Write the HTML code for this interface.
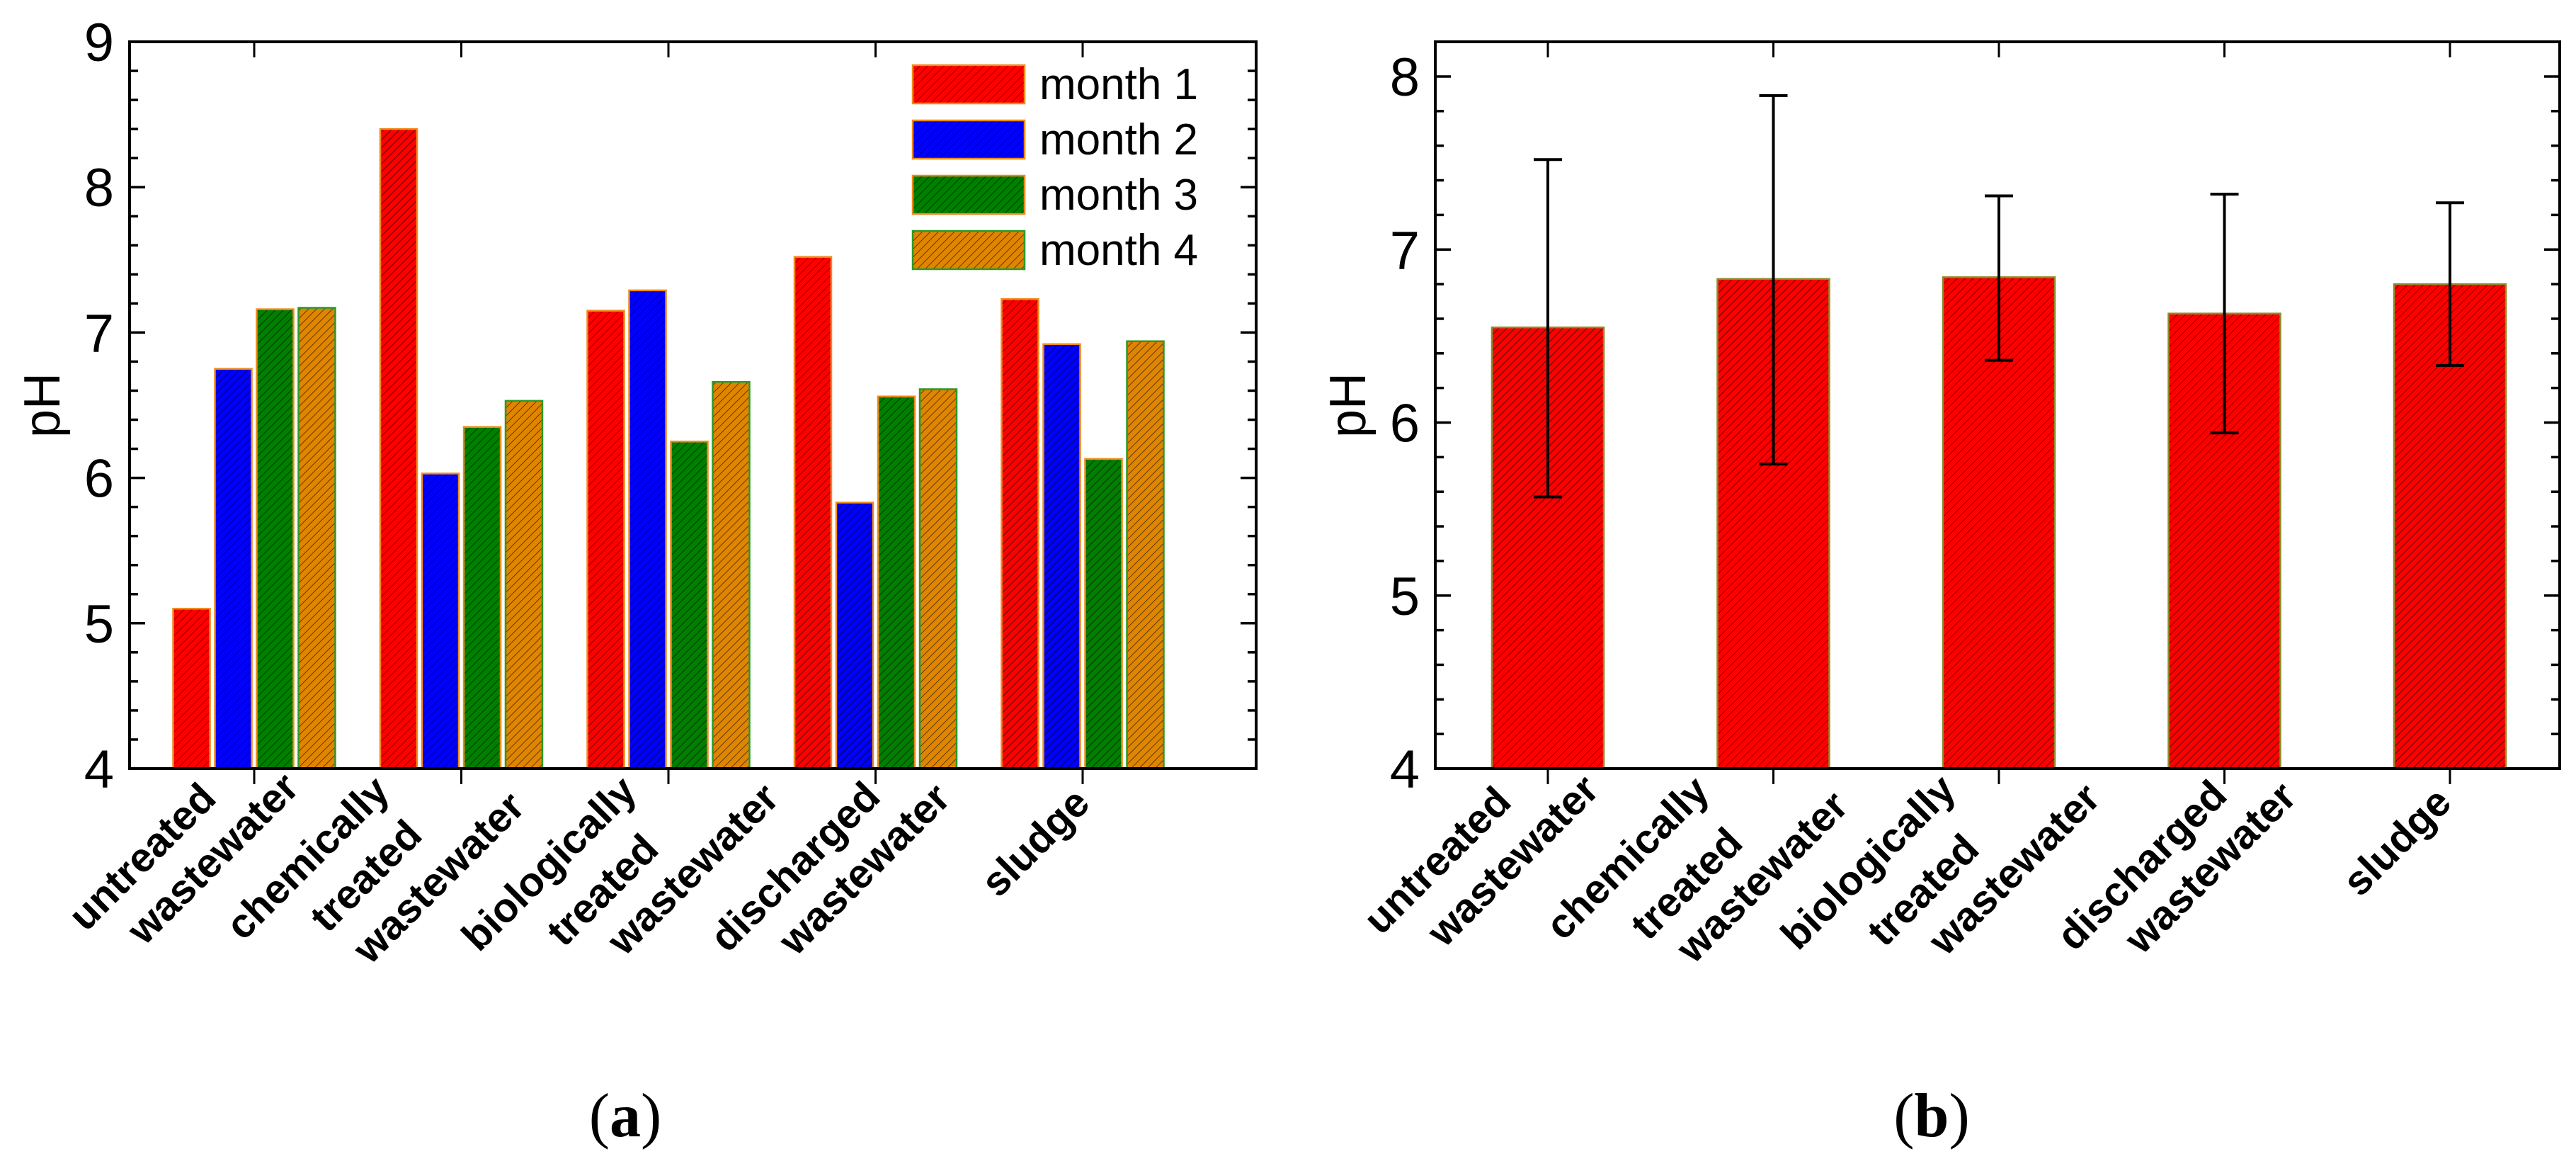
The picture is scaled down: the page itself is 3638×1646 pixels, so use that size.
<!DOCTYPE html>
<html><head><meta charset="utf-8"><style>
html,body{margin:0;padding:0;background:#fff;}
svg{display:block;}
text{font-family:"Liberation Sans",sans-serif;}
.cap{font-family:"Liberation Serif",serif;font-size:88px;}
</style></head><body>
<svg id="fig" width="3638" height="1646" viewBox="0 0 3638 1646" xmlns="http://www.w3.org/2000/svg">
<defs>
<pattern id="hatch" patternUnits="userSpaceOnUse" width="8" height="8" patternTransform="rotate(45)">
<line x1="0" y1="0" x2="0" y2="8" stroke="#000" stroke-width="1.6" stroke-opacity="0.7"/>
</pattern>
</defs>
<g id="chartA"></g>
<g id="chartB"></g>
<text class="cap" x="883" y="1604" text-anchor="middle">(<tspan font-weight="bold">a</tspan>)</text>
<text class="cap" x="2728" y="1604" text-anchor="middle">(<tspan font-weight="bold">b</tspan>)</text>
</svg>
<script>
// ---- data ----
const catsA = ["untreated wastewater","chemically treated wastewater","biologically treated wastewater","discharged wastewater","sludge"];
const seriesNames = ["month 1","month 2","month 3","month 4"];
const month1 = [5.10, 8.40, 7.15, 7.52, 7.23];
const month2 = [6.75, 6.03, 7.29, 5.83, 6.92];
const month3 = [7.16, 6.35, 6.25, 6.56, 6.13];
const month4 = [7.17, 6.53, 6.66, 6.61, 6.94];
const ticksA = [4,5,6,7,8,9];
const meanB = [6.55, 6.83, 6.84, 6.63, 6.80];
const upperB = [7.52, 7.89, 7.31, 7.32, 7.27];
const lowerB = [5.57, 5.76, 6.36, 5.94, 6.33];
const ticksB = [4,5,6,7,8];
const labelWordsA = ["untreated","wastewater","chemically","treated","wastewater","biologically","treated","wastewater","discharged","wastewater","sludge"];

const NS = "http://www.w3.org/2000/svg";
function mk(parent, tag, attrs){const e=document.createElementNS(NS,tag);for(const k in attrs)e.setAttribute(k,attrs[k]);parent.appendChild(e);return e;}
function lin(d0,d1,r0,r1){return v=>r0+(v-d0)*(r1-r0)/(d1-d0);}

function axes(g, L, R, T, B, y, ymin, ymax, ticks, xs, nCat){
  // minor ticks
  for(let v=ymin; v<=ymax+1e-9; v+=0.2){
    const yy=y(v); const major=Math.abs(v-Math.round(v))<1e-6;
    const len=major?22:12;
    const t1=mk(g,'line',{x1:L,y1:yy,x2:L+len,y2:yy,stroke:'#000','stroke-width':3.5});
    
    
    const t2=mk(g,'line',{x1:R,y1:yy,x2:R-len,y2:yy,stroke:'#000','stroke-width':3.5});
    
    
  }
  ticks.forEach(v=>{
    const t=mk(g,'text',{x:L-22,y:y(v)+27,'text-anchor':'end','font-size':76});
    t.textContent=String(v);
    
    
  });
  for(let i=0;i<nCat;i++){
    const xx=xs(i);
    const a=mk(g,'line',{x1:xx,y1:B,x2:xx,y2:B+22,stroke:'#000','stroke-width':3});
    
    
    const b=mk(g,'line',{x1:xx,y1:T,x2:xx,y2:T+22,stroke:'#000','stroke-width':3});
    
    
  }
  const fr=mk(g,'rect',{x:L,y:T,width:R-L,height:B-T,fill:'none',stroke:'#000','stroke-width':4});
  
  
}
function xlabels(g, items){
  items.forEach(([w,x,y])=>{
    const t=mk(g,'text',{x:x,y:y,'text-anchor':'end','font-size':58,'font-weight':'bold',transform:`rotate(-45 ${x} ${y})`});
    t.textContent=w;
    
    
  });
}
function ylabel(g,x,y){
  const t=mk(g,'text',{x:x,y:y,'text-anchor':'middle','font-size':72,transform:`rotate(-90 ${x} ${y})`});
  t.textContent='pH';
  
  
}

// ---- chart A ----
(function(){
  const g=document.getElementById('chartA');
  const L=183,R=1774,T=59,B=1085;
  const y=lin(4,9,B,T);
  const x=lin(0,4,359,1529);
  const series=[month1,month2,month3,month4];
  const fills=['#ff0000','#0000ff','#007f00','#e08500'];
  const strokes=['#f08a1a','#f08a1a','#f08a1a','#2a9a2a'];
  const step=(x(1)-x(0))*0.2017, bw=52;
  series.forEach((s,si)=>{
    s.forEach((v,i)=>{
      const cx=x(i)+(si-1.5)*step;
      const attrs={x:cx-bw/2,y:y(v),width:bw,height:B-y(v)};
      const r1=mk(g,'rect',Object.assign({fill:fills[si]},attrs));
      
      
      const r2=mk(g,'rect',Object.assign({fill:'url(#hatch)',stroke:strokes[si],'stroke-width':2.5},attrs));
      
      
    });
  });
  axes(g,L,R,T,B,y,4,9,ticksA,x,5);
  // legend
  seriesNames.forEach((n,si)=>{
    const yy=92+si*78;
    const a=mk(g,'rect',{x:1289,y:yy,width:158,height:54,fill:fills[si]});
    
    
    const b=mk(g,'rect',{x:1289,y:yy,width:158,height:54,fill:'url(#hatch)',stroke:strokes[si],'stroke-width':2.5});
    
    
    const t=mk(g,'text',{x:1468,y:yy+48,'font-size':62});
    t.textContent=n;
    
    
  });
  ylabel(g,84,572);
  const pos=[[308,1130],[425,1115],[553,1120],[599,1182],[744,1142],[902,1120],[933,1202],[1103,1130],[1246,1128],[1345,1130],[1542,1137]];
  xlabels(g,labelWordsA.map((w,i)=>[w,pos[i][0],pos[i][1]]));
})();

// ---- chart B ----
(function(){
  const g=document.getElementById('chartB');
  const L=2027,R=3615,T=59,B=1085;
  const y=lin(4,8,B,108);
  const x=lin(0,4,2186,3460);
  const bw=158;
  meanB.forEach((v,i)=>{
    const attrs={x:x(i)-bw/2,y:y(v),width:bw,height:B-y(v)};
    const r1=mk(g,'rect',Object.assign({fill:'#ff0000'},attrs));
    
    
    const r2=mk(g,'rect',Object.assign({fill:'url(#hatch)',stroke:'#8c8c2a','stroke-width':2.5},attrs));
    
    
  });
  meanB.forEach((v,i)=>{
    const cx=x(i);
    const e=mk(g,'path',{d:`M${cx},${y(upperB[i])}V${y(lowerB[i])}M${cx-20},${y(upperB[i])}H${cx+20}M${cx-20},${y(lowerB[i])}H${cx+20}`,stroke:'#000','stroke-width':4,fill:'none'});
    
    
  });
  axes(g,L,R,T,B,y,4,8.2,ticksB,x,5);
  ylabel(g,1928,572);
  const pos=[[2137,1135],[2261,1118],[2417,1120],[2464,1193],[2613,1141],[2765,1118],[2798,1202],[2969,1130],[3148,1126],[3246,1128],[3465,1136]];
  xlabels(g,labelWordsA.map((w,i)=>[w,pos[i][0],pos[i][1]]));
})();
</script>
</body></html>
